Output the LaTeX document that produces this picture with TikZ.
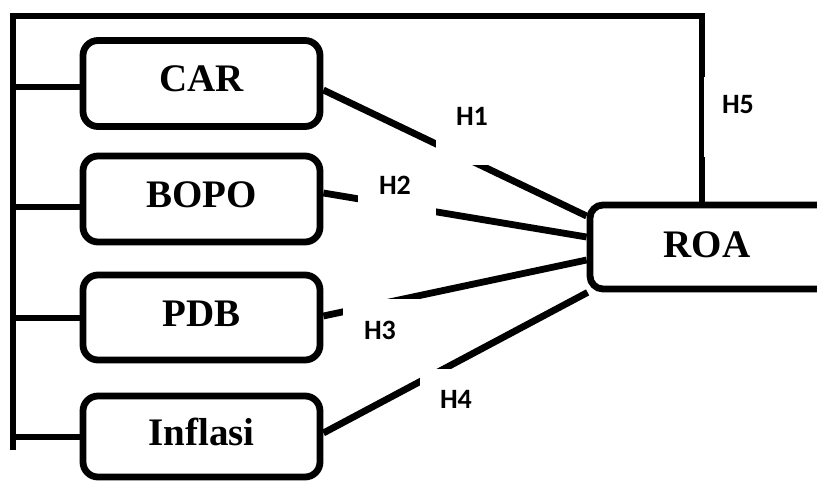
\documentclass[tikz,border=0pt]{standalone}
\usepackage{fontspec}
\setmainfont{Liberation Serif}
\newfontfamily\lblfont{Carlito}
\begin{document}
\begin{tikzpicture}[x=1pt,y=-1pt,
  box/.style={draw, line width=6.8pt, rounded corners=15pt, minimum width=237pt, minimum height=86pt, inner sep=0pt, font=\fontsize{39}{41}\bfseries\selectfont, text height=25pt, text depth=8pt},
  link/.style={line width=6.8pt},
  hlab/.style={font=\lblfont\fontsize{28}{30}\bfseries\selectfont, inner sep=0pt}]
\useasboundingbox (0,0) rectangle (817,481);
\node[box] (car) at (201.5,83.5) {CAR};
\node[box] (bopo) at (201.5,199) {BOPO};
\node[box, minimum height=85pt] (pdb) at (201.5,317.5) {PDB};
\node[box, minimum height=81pt] (inf) at (201.5,436.5) {Inflasi};
\node[box, minimum width=260pt, minimum height=84pt, rounded corners=13pt, text height=26pt, text depth=4pt] (roa) at (720,247) {ROA\hspace*{26pt}};
% frame
\coordinate (tl) at (13,16);
\coordinate (tr) at (702,16);
\coordinate (bl) at (13,450);
\draw[link] (bl) -- (tl) -- (tr) -- (tr |- roa.north);
\coordinate (j1) at (13,87);
\coordinate (j2) at (13,207);
\coordinate (j3) at (13,318);
\coordinate (j4) at (13,437);
\draw[link] (j1) -- (j1 -| car.west);
\draw[link] (j2) -- (j2 -| bopo.west);
\draw[link] (j3) -- (j3 -| pdb.west);
\draw[link] (j4) -- (j4 -| inf.west);
% connectors
\draw[link] ([yshift=-6.5pt]car.east) -- ([yshift=31pt]roa.west);
\draw[link] ([yshift=6pt]bopo.east) -- ([yshift=10pt]roa.west);
\draw[link] ([yshift=1.5pt]pdb.east) -- ([yshift=-13pt]roa.west);
\draw[link] ([yshift=3.5pt]inf.east) -- ([xshift=1pt]roa.south west);
% label boxes (white)
\fill[white] (436,95) rectangle (515,165.5);
\fill[white] (358,160) rectangle (436,225);
\fill[white] (343,299) rectangle (420,350);
\fill[white] (420,369) rectangle (500,430);
\fill[white] (703.5,77) rectangle (780,157);
\node[hlab] (h1) at (472,116) {H1};
\node[hlab] (h2) at (395,185) {H2};
\node[hlab] (h3) at (380,330) {H3};
\node[hlab] (h4) at (456,399) {H4};
\node[hlab] (h5) at (738,105) {H5};
\end{tikzpicture}
\end{document}
